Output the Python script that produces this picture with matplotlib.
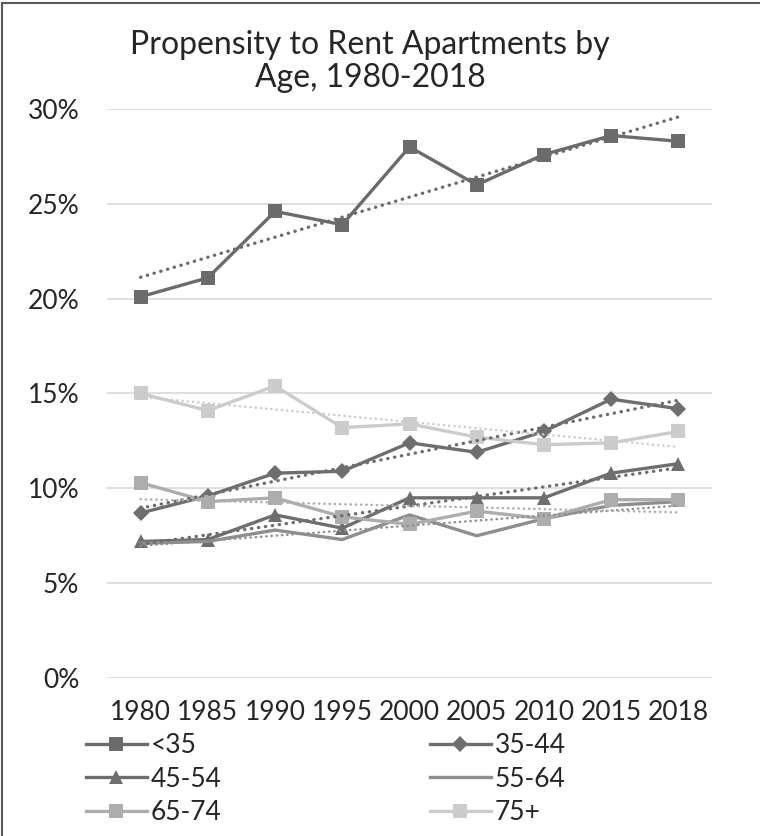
import numpy as np
import matplotlib
matplotlib.use("Agg")
import matplotlib.pyplot as plt
from matplotlib.lines import Line2D

plt.rcParams['font.family'] = ['Lato', 'DejaVu Sans']
plt.rcParams['font.weight'] = 'normal'

years = ['1980', '1985', '1990', '1995', '2000', '2005', '2010', '2015', '2018']
series_names = ['<35', '35-44', '45-54', '55-64', '65-74', '75+']
under35 = [20.1, 21.1, 24.6, 23.9, 28.0, 26.0, 27.6, 28.6, 28.3]
age35_44 = [8.7, 9.6, 10.8, 10.9, 12.4, 11.9, 13.0, 14.7, 14.2]
age45_54 = [7.2, 7.3, 8.6, 7.9, 9.5, 9.5, 9.5, 10.8, 11.3]
age55_64 = [7.1, 7.2, 7.8, 7.3, 8.6, 7.5, 8.4, 9.1, 9.3]
age65_74 = [10.3, 9.3, 9.5, 8.5, 8.1, 8.8, 8.4, 9.4, 9.4]
age75p = [15.0, 14.1, 15.4, 13.2, 13.4, 12.7, 12.3, 12.4, 13.0]
yticks = [0, 5, 10, 15, 20, 25, 30]

data = [under35, age35_44, age45_54, age55_64, age65_74, age75p]
colors = ['#6b6b6b', '#6e6e6e', '#6e6e6e', '#8e8e8e', '#adadad', '#cccccc']
markers = ['s', 'D', '^', None, 's', 's']
msizes = [9.5, 8, 9.5, 0, 9.5, 9.5]
trend_lw = [2.4, 2.4, 2.4, 1.8, 1.8, 1.8]

W, H = 760, 836
fig = plt.figure(figsize=(W / 100, H / 100), dpi=100)
ax = fig.add_axes([107 / W, 1 - 678 / H, (712 - 107) / W, (678 - 109) / H])

x = np.arange(len(years))
handles = []
for vals, name, c, m, ms, tlw in zip(data, series_names, colors, markers, msizes, trend_lw):
    v = np.array(vals) / 100.0
    ln, = ax.plot(x, v, color=c, lw=2.4, marker=m, markersize=ms,
                  markeredgewidth=0, label=name, zorder=3)
    handles.append(ln)
    coef = np.polyfit(x + 1, v, 1)
    ax.plot(x, np.polyval(coef, x + 1), color=c, lw=tlw, linestyle=(0, (0.1, 2.0)),
            dash_capstyle='round', zorder=4)

ax.set_xlim(-0.5, len(years) - 0.5)
ax.set_ylim(0, 0.30)
ax.set_yticks([t / 100 for t in yticks])
ax.set_yticklabels([f'{t}%' for t in yticks])
ax.set_xticks(x)
ax.set_xticklabels(years)
ax.grid(axis='y', color='#d9d9d9', lw=1.2)
ax.set_axisbelow(True)
for s in ax.spines.values():
    s.set_visible(False)
ax.tick_params(length=0, labelsize=19, colors='#262626')
ax.tick_params(axis='y', pad=20)
ax.tick_params(axis='x', pad=16)

fig.text(370 / W, 1 - 30 / H, 'Propensity to Rent Apartments by\nAge, 1980-2018',
         ha='center', va='top', fontsize=23, color='#262626', linespacing=1.12)

leg_order = [0, 2, 4, 1, 3, 5]
leg = fig.legend(handles=[handles[i] for i in leg_order],
                 labels=[series_names[i] for i in leg_order], ncol=2,
                 loc='upper left', bbox_to_anchor=(86 / W, 1 - 733 / H),
                 frameon=False, fontsize=19, handlelength=2.3, handletextpad=0.15,
                 columnspacing=7.9, labelspacing=0.33, borderpad=0, borderaxespad=0)
for t in leg.get_texts():
    t.set_color('#262626')

# chart frame (left and top edges visible)
fig.add_artist(Line2D([2 / W, 2 / W], [0, 1 - 3 / H], color='#595959', lw=1.5,
                      transform=fig.transFigure))
fig.add_artist(Line2D([2 / W, 1], [1 - 3 / H, 1 - 3 / H], color='#595959', lw=1.5,
                      transform=fig.transFigure))

fig.savefig('out.png', dpi=100)
